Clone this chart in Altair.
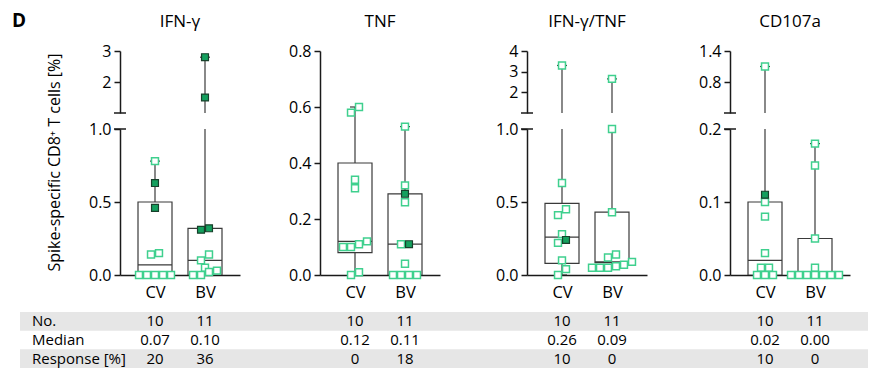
import altair as alt
import pandas as pd

# ---------------------------------------------------------------- data
markers = ["IFN-γ", "TNF", "IFN-γ/TNF", "CD107a"]
groups = ["CV", "BV"]
table_rows = ["No.", "Median", "Response [%]"]

# single donors: open = non-responder, resp = responder (filled square)
ifng_cv_open = [0.78, 0.15, 0.14, 0, 0, 0, 0, 0]
ifng_cv_resp = [0.63, 0.46]
ifng_bv_open = [0.14, 0.10, 0.05, 0.03, 0.02, 0, 0]
ifng_bv_resp = [2.8, 1.5, 0.32, 0.31]

tnf_cv_open = [0.60, 0.58, 0.34, 0.31, 0.12, 0.11, 0.10, 0.10, 0.01, 0]
tnf_cv_resp = []
tnf_bv_open = [0.53, 0.32, 0.26, 0.11, 0.04, 0, 0, 0, 0]
tnf_bv_resp = [0.29, 0.11]

dual_cv_open = [3.3, 0.63, 0.45, 0.41, 0.28, 0.22, 0.10, 0.04, 0]
dual_cv_resp = [0.24]
dual_bv_open = [2.65, 1.0, 0.43, 0.14, 0.12, 0.09, 0.07, 0.06, 0.05, 0.05, 0.05]
dual_bv_resp = []

cd107_cv_open = [1.1, 0.10, 0.08, 0.03, 0.01, 0.01, 0, 0, 0]
cd107_cv_resp = [0.11]
cd107_bv_open = [0.18, 0.15, 0.05, 0.01, 0, 0, 0, 0, 0, 0, 0]
cd107_bv_resp = []

# box statistics per marker, [CV, BV]
q1_cv = [0, 0.08, 0.08, 0]
q1_bv = [0, 0, 0.085, 0]
q3_cv = [0.50, 0.40, 0.49, 0.10]
q3_bv = [0.32, 0.29, 0.43, 0.05]
median_cv = [0.07, 0.12, 0.26, 0.02]
median_bv = [0.10, 0.11, 0.09, 0.00]

# broken y axes: lower segment [0, lower_max], optional upper segment
lower_max = [1.0, 0.8, 1.0, 0.2]
lower_ticks = [[0, 0.5, 1.0], [0, 0.2, 0.4, 0.6, 0.8], [0, 0.5, 1.0], [0, 0.1, 0.2]]
upper_range = [[1, 3], None, [1, 4], [0.2, 1.4]]
upper_ticks = [[2, 3], None, [2, 3, 4], [0.8, 1.4]]
upper_format = ["d", None, "d", ".1f"]

y_title = "Spike-specific CD8⁺ T cells [%]"

open_sets = [[ifng_cv_open, ifng_bv_open], [tnf_cv_open, tnf_bv_open],
             [dual_cv_open, dual_bv_open], [cd107_cv_open, cd107_bv_open]]
resp_sets = [[ifng_cv_resp, ifng_bv_resp], [tnf_cv_resp, tnf_bv_resp],
             [dual_cv_resp, dual_bv_resp], [cd107_cv_resp, cd107_bv_resp]]

# ---------------------------------------------------------------- layout / style
FONT = "Open Sans"
W = 120                      # plot width of each panel
X_DOMAIN = [0.3, 2.7]
PX_PER_UNIT = W / (X_DOMAIN[1] - X_DOMAIN[0])
H_UP, H_LOW, GAP = 62, 146, 16
H_FULL = H_UP + GAP + H_LOW
BAND_LEFT = [100, 40, 44, 42]
BAND_RIGHT = [40, 43, 41, 18]
BOX_HALF = 17 / PX_PER_UNIT
CAP_HALF = 5 / PX_PER_UNIT

LINE = "#3a3a3a"
AXIS = "#1a1a1a"
MINT = "#3fd08e"
GREEN = "#14a05e"
GREEN_EDGE = "#17402b"
BAND = "#e6e6e6"
MARK_SIZE = 48


def to_px(m, v):
    if upper_range[m] is None:
        return v / lower_max[m] * H_FULL
    if v <= lower_max[m]:
        return v / lower_max[m] * H_LOW
    lo, hi = upper_range[m]
    return H_LOW + GAP + (v - lo) / (hi - lo) * H_UP


def swarm_offsets(pxs, step=8.0, tol=6.0):
    """Centre points of similar height side by side in rows."""
    order = sorted(range(len(pxs)), key=lambda i: pxs[i])
    rows = []
    for i in order:
        if rows and pxs[i] - pxs[rows[-1][0]] < tol:
            rows[-1].append(i)
        else:
            rows.append([i])
    offs = [0.0] * len(pxs)
    for r in rows:
        k = len(r)
        for j, i in enumerate(r):
            offs[i] = (j - (k - 1) / 2) * step
    return offs


def points_frame(m):
    recs = []
    for gi, g in enumerate(groups):
        vals = [(v, "open") for v in open_sets[m][gi]] + [(v, "resp") for v in resp_sets[m][gi]]
        offs = swarm_offsets([to_px(m, v) for v, _ in vals])
        for (v, kind), o in zip(vals, offs):
            recs.append({"group": g, "value": v, "kind": kind, "x": gi + 1 + o / PX_PER_UNIT})
    return pd.DataFrame(recs, columns=["group", "value", "kind", "x"])


def box_frame(m):
    q1s = [q1_cv[m], q1_bv[m]]
    q3s = [q3_cv[m], q3_bv[m]]
    meds = [median_cv[m], median_bv[m]]
    recs = []
    for gi, g in enumerate(groups):
        vals = open_sets[m][gi] + resp_sets[m][gi]
        pos = gi + 1
        recs.append({"group": g, "pos": pos, "lo": pos - BOX_HALF, "hi": pos + BOX_HALF,
                     "cap_lo": pos - CAP_HALF, "cap_hi": pos + CAP_HALF,
                     "q1": q1s[gi], "median": meds[gi], "q3": q3s[gi],
                     "vmin": min(vals), "vmax": max(vals)})
    return pd.DataFrame(recs)


def table_frame(m):
    meds = [median_cv[m], median_bv[m]]
    recs = []
    for gi, g in enumerate(groups):
        n = len(open_sets[m][gi]) + len(resp_sets[m][gi])
        resp = round(100 * len(resp_sets[m][gi]) / n)
        for row, lab in zip(table_rows, [str(n), f"{meds[gi]:.2f}", str(resp)]):
            recs.append({"pos": gi + 1, "row": row, "label": lab})
    return pd.DataFrame(recs)


x_scale = alt.Scale(domain=X_DOMAIN, nice=False, zero=False)
x_axis_bottom = alt.Axis(values=[1, 2], title=None, ticks=False, grid=False,
                         labelExpr=f"datum.value == 1 ? '{groups[0]}' : '{groups[1]}'",
                         labelFontSize=16.5, labelPadding=9, labelColor="black",
                         domainColor=AXIS, domainWidth=1.5)


def segment_layers(m, part, domain, y_axis, x_axis):
    y_scale = alt.Scale(domain=domain, nice=False, zero=False)

    def X(f):
        return alt.X(f, type="quantitative", scale=x_scale, axis=x_axis)

    def Y(f):
        return alt.Y(f, type="quantitative", scale=y_scale, axis=y_axis)

    box = box_frame(m)
    pts = points_frame(m)
    if part == "upper":
        pts = pts[pts["value"] > lower_max[m]]
    elif part == "lower":
        pts = pts[pts["value"] <= lower_max[m]]
    open_pts = pts[pts["kind"] == "open"]
    resp_pts = pts[pts["kind"] == "resp"]

    rule = dict(clip=True, color=LINE, strokeWidth=1.2)
    layers = [
        alt.Chart(box).mark_rule(**rule).encode(x=X("pos"), y=Y("q3"), y2="vmax"),
        alt.Chart(box).mark_rule(**rule).encode(x=X("pos"), y=Y("vmin"), y2="q1"),
        alt.Chart(box).mark_rule(**rule).encode(x=X("cap_lo"), x2="cap_hi", y=Y("vmax")),
        alt.Chart(box).mark_rule(**rule).encode(x=X("cap_lo"), x2="cap_hi", y=Y("vmin")),
        alt.Chart(box).mark_rect(clip=True, fill="white", stroke=LINE, strokeWidth=1.2)
        .encode(x=X("lo"), x2="hi", y=Y("q1"), y2="q3"),
        alt.Chart(box).mark_rule(**rule).encode(x=X("lo"), x2="hi", y=Y("median")),
        alt.Chart(open_pts).mark_square(size=MARK_SIZE, fill="white", stroke=MINT,
                                        strokeWidth=1.5, opacity=1)
        .encode(x=X("x"), y=Y("value")),
        alt.Chart(resp_pts).mark_square(size=MARK_SIZE, fill=GREEN, stroke=GREEN_EDGE,
                                        strokeWidth=1.2, opacity=1)
        .encode(x=X("x"), y=Y("value")),
    ]
    # axis-break marks
    if part == "lower":
        brk = lower_max[m]
    elif part == "upper":
        brk = upper_range[m][0]
    else:
        brk = None
    if brk is not None:
        layers.append(
            alt.Chart(pd.DataFrame({"b": [brk]})).mark_rule(color=AXIS, strokeWidth=1.5)
            .encode(x=alt.value(-6), x2=alt.value(6), y=Y("b"))
        )
    return layers


def table_layer(m, h):
    t_scale = alt.Scale(domain=table_rows, range=[h + 37, h + 93], paddingInner=0, paddingOuter=0)
    ty = alt.Y("row:N", scale=t_scale, axis=None)
    layers = [
        alt.Chart(pd.DataFrame({"row": [table_rows[0], table_rows[2]]})).mark_rect(color=BAND)
        .encode(x=alt.value(-BAND_LEFT[m]), x2=alt.value(W + BAND_RIGHT[m]), y=ty),
        alt.Chart(table_frame(m)).mark_text(fontSize=15, color="black", font=FONT, dy=0)
        .encode(x=alt.X("pos:Q", scale=x_scale, axis=x_axis_bottom), y=ty, text="label:N"),
    ]
    if m == 0:
        layers.append(
            alt.Chart(pd.DataFrame({"row": table_rows})).mark_text(
                fontSize=15, color="black", font=FONT, align="left", dy=0)
            .encode(x=alt.value(32 - 120), y=ty, text="row:N")
        )
        # panel letter, above the first panel
        layers.append(
            alt.Chart(pd.DataFrame({"t": ["D"]})).mark_text(
                align="left", baseline="middle", fontSize=19, fontWeight="bold",
                font=FONT, color="black")
            .encode(x=alt.value(12 - 120), y=alt.value(21 - 129), text="t:N")
        )
    return alt.layer(*layers)


def y_axis(values, fmt, with_title=False):
    kw = dict(values=values, format=fmt, grid=False, tickSize=6, labelFontSize=16,
              labelPadding=3, domainColor=AXIS, domainWidth=1.5, tickColor=AXIS, tickWidth=1.5,
              labelColor="black", title=None)
    if with_title:
        kw.update(title=y_title, titleX=-66, titleY=33, titleAngle=270, titleAlign="center",
                  titleBaseline="middle", titleFontSize=16, titleFontWeight="normal",
                  titleColor="black", titleFont=FONT)
    return alt.Axis(**kw)


panel_title = dict(anchor="middle", frame="group", fontSize=17, fontWeight="normal",
                   font=FONT, color="black", offset=12)

columns = []
for m, name in enumerate(markers):
    if upper_range[m] is None:
        lay = segment_layers(m, "full", [0, lower_max[m]],
                             y_axis(lower_ticks[m], ".1f"), x_axis_bottom)
        col = (alt.layer(alt.layer(*lay), table_layer(m, H_FULL))
               .resolve_scale(y="independent")
               .properties(width=W, height=H_FULL,
                           title=alt.TitleParams(name, **panel_title)))
    else:
        up_layers = segment_layers(m, "upper", upper_range[m],
                                   y_axis(upper_ticks[m], upper_format[m]), None)
        upper = alt.layer(*up_layers).properties(
            width=W, height=H_UP, title=alt.TitleParams(name, **panel_title))
        low_layers = segment_layers(m, "lower", [0, lower_max[m]],
                                    y_axis(lower_ticks[m], ".1f", with_title=(m == 0)),
                                    x_axis_bottom)
        lower = (alt.layer(alt.layer(*low_layers), table_layer(m, H_LOW))
                 .resolve_scale(y="independent")
                 .properties(width=W, height=H_LOW))
        col = alt.vconcat(upper, lower, spacing=GAP, bounds="flush")
    columns.append(col)

chart = (
    alt.hconcat(*columns, spacing=0)
    .properties(padding={"left": 12, "top": 12, "right": 0, "bottom": 0})
    .configure_view(stroke=None)
    .configure_axis(labelFont=FONT)
    .configure_title(font=FONT)
)

chart.save("out.html", embed_options={"renderer": "svg", "actions": False})
